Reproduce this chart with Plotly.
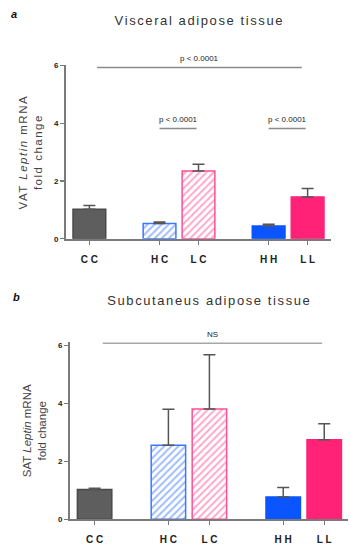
import plotly.graph_objects as go

# ---- data ----
categories = ["CC", "HC", "LC", "HH", "LL"]
tick_labels = ["C C", "H C", "L C", "H H", "L L"]

vat_mean = [1.02, 0.53, 2.35, 0.44, 1.45]
vat_upper = [1.15, 0.58, 2.58, 0.50, 1.74]
sat_mean = [1.02, 2.55, 3.80, 0.76, 2.74]
sat_upper = [1.07, 3.79, 5.68, 1.09, 3.29]

vat_sig_y = [5.93, 3.82, 3.82]
vat_sig_text = ["p < 0.0001", "p < 0.0001", "p < 0.0001"]
sat_sig_y = [6.08]
sat_sig_text = ["NS"]

y_ticks = [0, 2, 4, 6]

# ---- layout helpers (positions / styles) ----
x_pos = [0, 1.8, 2.8, 4.6, 5.6]
fills = ["#5e5e5e", "#ffffff", "#ffffff", "#0a55ff", "#ff2277"]
outlines = ["#4a4a4a", "#3b78ff", "#ff4f94", "#0a55ff", "#ff2277"]
hatch = ["", "/", "/", "", ""]
hatch_fg = ["#5e5e5e", "#3b78ff", "#ff4f94", "#0a55ff", "#ff2277"]
AX = "#7a7a7a"
FONT = "Liberation Sans, Arial, sans-serif"

fig = go.Figure()

def add_bars(means, uppers, xa, ya):
    for i, cat in enumerate(categories):
        fig.add_trace(go.Bar(
            x=[x_pos[i]], y=[means[i]], width=0.84, name=cat,
            xaxis=xa, yaxis=ya,
            marker=dict(color=fills[i], line=dict(color=outlines[i], width=1.5),
                        pattern=dict(shape=hatch[i], fgcolor=hatch_fg[i], bgcolor="#ffffff",
                                     size=5, solidity=0.4, fillmode="overlay")),
            error_y=dict(type="data", symmetric=False,
                         array=[uppers[i] - means[i]], arrayminus=[0],
                         color="#555555", thickness=1.5, width=6),
            showlegend=False, hoverinfo="skip",
        ))

add_bars(vat_mean, vat_upper, "x", "y")
add_bars(sat_mean, sat_upper, "x2", "y2")

def xaxis_cfg(domain, anchor, rng):
    return dict(domain=domain, anchor=anchor, range=rng,
                tickmode="array", tickvals=x_pos, ticktext=tick_labels,
                showline=True, linecolor=AX, linewidth=2, ticks="outside",
                ticklen=4, tickwidth=1.2, tickcolor=AX, showgrid=False, zeroline=False,
                ticklabelstandoff=6,
                tickfont=dict(family=FONT, size=10, color="#222222", weight="bold"))

def yaxis_cfg(domain, anchor, rng, title):
    return dict(domain=domain, anchor=anchor, range=rng,
                tickmode="array", tickvals=y_ticks,
                showline=True, linecolor=AX, linewidth=2, ticks="outside",
                ticklen=4, tickwidth=1.2, tickcolor=AX, showgrid=False, zeroline=False,
                tickfont=dict(family=FONT, size=8, color="#222222", weight="bold"),
                title=dict(text=title, standoff=9,
                           font=dict(family=FONT, size=11.5, color="#444444")))

fig.update_layout(
    width=350, height=550,
    margin=dict(l=0, r=0, t=0, b=0),
    paper_bgcolor="white", plot_bgcolor="white",
    barmode="overlay", bargap=0,
    xaxis=xaxis_cfg([66 / 350, 331 / 350], "y", [-0.6, 6.2]),
    yaxis=yaxis_cfg([1 - 238.7 / 550, 1 - 62.5 / 550], "x", [0, 6],
                    "VAT <i>Leptin</i> mRNA<br>fold change"),
    xaxis2=xaxis_cfg([70 / 350, 348 / 350], "y2", [-0.6, 6.18]),
    yaxis2=yaxis_cfg([1 - 523.7 / 550, 1 - 344.1 / 550], "x2", [0, 6.1],
                     "SAT <i>Leptin</i> mRNA<br>fold change"),
)

def sig_line(x0, x1, yv, txt, xa, ya):
    fig.add_shape(type="line", x0=x0, x1=x1, y0=yv, y1=yv, xref=xa, yref=ya,
                  line=dict(color="#8a8a8a", width=1.5))
    fig.add_annotation(x=(x0 + x1) / 2, y=yv, xref=xa, yref=ya, text=txt,
                       showarrow=False, yanchor="bottom", yshift=2,
                       font=dict(family=FONT, size=8, color="#222222"))

sig_x_a = [(0.2, 5.45), (1.8, 2.75), (4.6, 5.55)]
for (x0, x1), yv, txt in zip(sig_x_a, vat_sig_y, vat_sig_text):
    sig_line(x0, x1, yv, txt, "x", "y")
sig_line(0.2, 5.55, sat_sig_y[0], sat_sig_text[0], "x2", "y2")

# titles and panel labels
fig.add_annotation(x=199 / 350, y=1 - 17 / 550, xref="paper", yref="paper",
                   text="Visceral adipose tissue", showarrow=False, yanchor="middle",
                   font=dict(family=FONT, size=13, color="#333333"))
fig.add_annotation(x=209 / 350, y=1 - 301 / 550, xref="paper", yref="paper",
                   text="Subcutaneus adipose tissue", showarrow=False, yanchor="middle",
                   font=dict(family=FONT, size=13, color="#333333"))
fig.add_annotation(x=9 / 350, y=1 - 10 / 550, xref="paper", yref="paper",
                   text="<b><i>a</i></b>", showarrow=False, yanchor="middle",
                   font=dict(family=FONT, size=11, color="#111111"))
fig.add_annotation(x=11 / 350, y=1 - 298 / 550, xref="paper", yref="paper",
                   text="<b><i>b</i></b>", showarrow=False, yanchor="middle",
                   font=dict(family=FONT, size=11, color="#111111"))

post_script = """
document.body.style.margin = '0';
var gd = document.getElementById('{plot_id}');
gd.querySelectorAll('.annotation-text').forEach(function (t) {
  if (t.textContent.indexOf('tissue') >= 0) { t.style.letterSpacing = '1.6px'; }
});
gd.querySelectorAll('.ytitle').forEach(function (t) { t.style.letterSpacing = '1.5px'; });
"""

fig.write_html("out.html", post_script=post_script,
               config={"displayModeBar": False, "staticPlot": True})
